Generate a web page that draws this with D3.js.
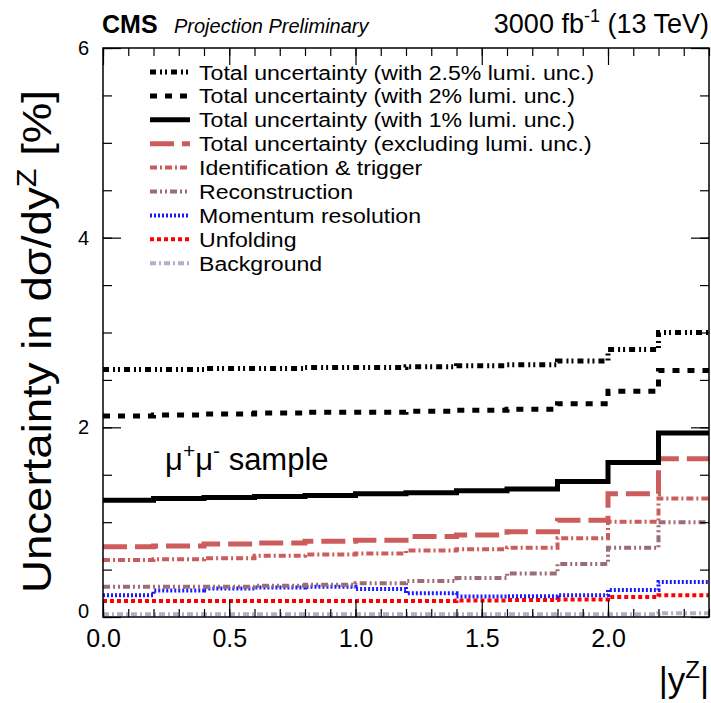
<!DOCTYPE html>
<html>
<head>
<meta charset="utf-8">
<script src="https://cdn.jsdelivr.net/npm/d3@7"></script>
<style>
  body { margin: 0; background: #fff; }
  text { font-family: "Liberation Sans", Arial, sans-serif; fill: #000; }
</style>
</head>
<body>
<svg id="chart" width="711" height="703"></svg>
<script>
// bin edges in |y^Z| and the per-bin uncertainties [%]
const binEdges = [0, 0.2, 0.4, 0.6, 0.8, 1.0, 1.2, 1.4, 1.6, 1.8, 2.0, 2.2, 2.4];
const totalLumi25 = [2.61, 2.61, 2.62, 2.62, 2.63, 2.63, 2.64, 2.65, 2.66, 2.70, 2.82, 3.00];
const totalLumi2 = [2.12, 2.13, 2.14, 2.15, 2.16, 2.16, 2.17, 2.18, 2.19, 2.25, 2.38, 2.60];
const totalLumi1 = [1.23, 1.25, 1.26, 1.27, 1.28, 1.30, 1.31, 1.33, 1.35, 1.43, 1.63, 1.94];
const totalNoLumi = [0.74, 0.75, 0.77, 0.78, 0.80, 0.81, 0.85, 0.865, 0.90, 1.02, 1.30, 1.67];
const idTrigger = [0.60, 0.61, 0.62, 0.645, 0.66, 0.67, 0.70, 0.715, 0.73, 0.83, 1.005, 1.25];
const reconstruction = [0.32, 0.32, 0.32, 0.33, 0.34, 0.355, 0.38, 0.41, 0.46, 0.56, 0.73, 1.00];
const momentumRes = [0.23, 0.28, 0.30, 0.31, 0.32, 0.295, 0.25, 0.215, 0.22, 0.23, 0.285, 0.37];
const unfolding = [0.17, 0.17, 0.17, 0.17, 0.17, 0.17, 0.17, 0.175, 0.18, 0.185, 0.21, 0.23];
const background = [0.03, 0.03, 0.03, 0.03, 0.03, 0.03, 0.03, 0.03, 0.03, 0.03, 0.03, 0.04];

const legendLabels = [
  "Total uncertainty (with 2.5% lumi. unc.)",
  "Total uncertainty (with 2% lumi. unc.)",
  "Total uncertainty (with 1% lumi. unc.)",
  "Total uncertainty (excluding lumi. unc.)",
  "Identification & trigger",
  "Reconstruction",
  "Momentum resolution",
  "Unfolding",
  "Background",
];
const xTickLabels = [0, 0.5, 1.0, 1.5, 2.0];
const yTickLabels = [0, 2, 4, 6];

// line styles, ROOT-ish
const styles = [
  { values: totalLumi25, color: "#000", width: 5, dash: "6,4,2,3,2,4" },
  { values: totalLumi2, color: "#000", width: 5, dash: "7,8" },
  { values: totalLumi1, color: "#000", width: 5, dash: null },
  { values: totalNoLumi, color: "#cd5c5c", width: 5, dash: "24,8" },
  { values: idTrigger, color: "#cd5c5c", width: 4, dash: "7,3,2,3" },
  { values: reconstruction, color: "#9a6e74", width: 4, dash: "7,3,2,3,2,3" },
  { values: momentumRes, color: "#1a1aff", width: 4, dash: "2,2" },
  { values: unfolding, color: "#ff0000", width: 4, dash: "4,3" },
  { values: background, color: "#b0b0c8", width: 4, dash: "6,3,2,3" },
];

const svg = d3.select("#chart");
const margin = { left: 103, right: 2, top: 48, bottom: 86 };
const W = 711, H = 703;

const x = d3.scaleLinear().domain([0, 2.4]).range([margin.left, W - margin.right]);
const y = d3.scaleLinear().domain([0, 6]).range([H - margin.bottom, margin.top]);

svg.append("defs").append("clipPath").attr("id", "frame-clip")
  .append("rect")
  .attr("x", x(0)).attr("y", y(6))
  .attr("width", x(2.4) - x(0)).attr("height", y(0) - y(6));

// step lines (histograms)
const stepLine = d3.line()
  .x((d) => x(d[0]))
  .y((d) => y(d[1]))
  .curve(d3.curveStepAfter);

const histPoints = (vals) => {
  let pts = vals.map((v, i) => [binEdges[i], v]);
  pts.push([binEdges[binEdges.length - 1], vals[vals.length - 1]]);
  return pts;
};

const plotG = svg.append("g").attr("clip-path", "url(#frame-clip)");
styles.slice().reverse().forEach((s) => {
  plotG.append("path")
    .attr("d", stepLine(histPoints(s.values)))
    .attr("fill", "none")
    .attr("stroke", s.color)
    .attr("stroke-width", s.width)
    .attr("stroke-dasharray", s.dash)
    .attr("stroke-linecap", "butt");
});

// axes: major + minor ticks, mirrored on top/right
const axisG = svg.append("g");
const addAxis = (axis, tx, ty) => {
  let g = axisG.append("g").attr("transform", `translate(${tx},${ty})`).call(axis);
  g.select(".domain").remove();
  g.selectAll("line").attr("stroke", "#000").attr("stroke-width", 1.2);
  return g;
};

const xMinor = d3.range(0, 2.41, 0.1);
const yMinor = d3.range(0, 6.01, 0.5);

let xb = addAxis(
  d3.axisBottom(x).tickValues(xTickLabels).tickSize(-17).tickPadding(12)
    .tickFormat(d3.format(".1f")),
  0, y(0)
);
xb.selectAll("text").style("font-size", "25px").attr("dy", "0.71em");
addAxis(d3.axisBottom(x).tickValues(xMinor).tickSize(-8).tickFormat(""), 0, y(0));
addAxis(d3.axisTop(x).tickValues(xTickLabels).tickSize(-17).tickFormat(""), 0, y(6));
addAxis(d3.axisTop(x).tickValues(xMinor).tickSize(-8).tickFormat(""), 0, y(6));

let yl = addAxis(
  d3.axisLeft(y).tickValues(yTickLabels).tickSize(-18).tickPadding(14)
    .tickFormat(d3.format("d")),
  x(0), 0
);
yl.selectAll("text").style("font-size", "20px");
yl.selectAll(".tick").filter((d) => d === 0).select("text").attr("dy", "0.0em");
addAxis(d3.axisLeft(y).tickValues(yMinor).tickSize(-9).tickFormat(""), x(0), 0);
addAxis(d3.axisRight(y).tickValues(yTickLabels).tickSize(-18).tickFormat(""), x(2.4), 0);
addAxis(d3.axisRight(y).tickValues(yMinor).tickSize(-9).tickFormat(""), x(2.4), 0);

// frame
svg.append("rect")
  .attr("x", x(0)).attr("y", y(6))
  .attr("width", x(2.4) - x(0)).attr("height", y(0) - y(6))
  .attr("fill", "none").attr("stroke", "#000").attr("stroke-width", 1.5);

// axis titles (the original font runs a bit wider than Liberation Sans)
const yTitle = svg.append("text")
  .attr("transform", `translate(51,${y(6) + 42}) rotate(-90) scale(1.14,1)`)
  .attr("text-anchor", "end")
  .style("font-size", "40px");
yTitle.append("tspan").text("Uncertainty in dσ/dy");
yTitle.append("tspan").attr("dy", -15).style("font-size", "27px").text("Z");
yTitle.append("tspan").attr("dy", 15).text(" [%]");

const xTitle = svg.append("text")
  .attr("x", x(2.4)).attr("y", 692)
  .attr("text-anchor", "end")
  .style("font-size", "35px");
xTitle.append("tspan").text("|y");
xTitle.append("tspan").attr("dy", -14).style("font-size", "24px").text("Z");
xTitle.append("tspan").attr("dy", 14).text("|");

// header
svg.append("text").attr("x", 102).attr("y", 33)
  .style("font-size", "25px").style("font-weight", "bold").text("CMS");
svg.append("text").attr("x", 174).attr("y", 33)
  .style("font-size", "20px").style("font-style", "italic").text("Projection Preliminary");
const lumiText = svg.append("text").attr("x", 709).attr("y", 33)
  .attr("text-anchor", "end").style("font-size", "27px");
lumiText.append("tspan").text("3000 fb");
lumiText.append("tspan").attr("dy", -11).style("font-size", "18px").text("-1");
lumiText.append("tspan").attr("dy", 11).text(" (13 TeV)");

// sample label
const sample = svg.append("text").attr("x", 165).attr("y", 470).style("font-size", "31px");
sample.append("tspan").text("μ");
sample.append("tspan").attr("dy", -12).style("font-size", "21px").text("+");
sample.append("tspan").attr("dy", 12).text("μ");
sample.append("tspan").attr("dy", -12).style("font-size", "21px").text("-");
sample.append("tspan").attr("dy", 12).text(" sample");

// legend
const legendG = svg.append("g");
const rowY = (i) => 72 + i * 23.9;
styles.forEach((s, i) => {
  legendG.append("line")
    .attr("x1", 150).attr("x2", 190)
    .attr("y1", rowY(i)).attr("y2", rowY(i))
    .attr("stroke", s.color)
    .attr("stroke-width", s.width)
    .attr("stroke-dasharray", s.dash);
  legendG.append("text")
    .attr("transform", `translate(199,${rowY(i)}) scale(1.1,1)`)
    .attr("dy", "0.36em")
    .style("font-size", "21px")
    .text(legendLabels[i]);
});
</script>
</body>
</html>
